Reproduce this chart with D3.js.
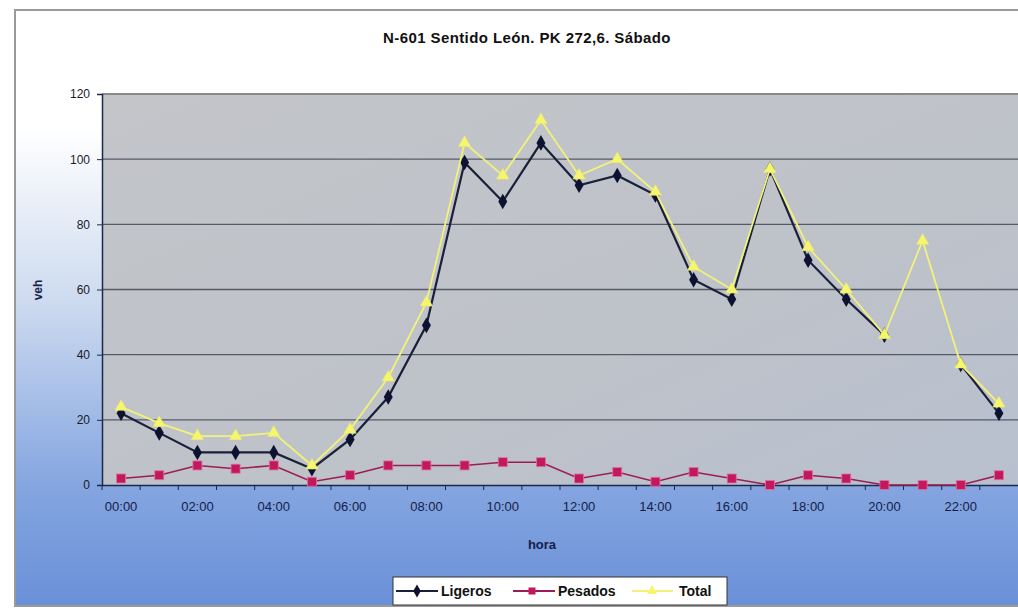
<!DOCTYPE html>
<html><head><meta charset="utf-8">
<script src="https://cdn.jsdelivr.net/npm/d3@7"></script>
<style>html,body{margin:0;padding:0;background:#fff;}svg{display:block;}</style>
</head><body>
<svg id="c" width="1018" height="610"></svg>
<script>
const hours = ["00:00","01:00","02:00","03:00","04:00","05:00","06:00","07:00","08:00","09:00","10:00","11:00","12:00","13:00","14:00","15:00","16:00","17:00","18:00","19:00","20:00","21:00","22:00","23:00"];
const tickLabels = ["00:00","02:00","04:00","06:00","08:00","10:00","12:00","14:00","16:00","18:00","20:00","22:00"];
const ligeros = [22,16,10,10,10,5,14,27,49,99,87,105,92,95,89,63,57,97,69,57,46,null,37,22];
const pesados = [2,3,6,5,6,1,3,6,6,6,7,7,2,4,1,4,2,0,3,2,0,0,0,3];
const total   = [24,19,15,15,16,6,17,33,56,105,95,112,95,100,90,67,60,97,73,60,46,75,37,25];
const yTicks = [0,20,40,60,80,100,120];
const title = "N-601 Sentido León. PK 272,6. Sábado";
const seriesNames = ["Ligeros","Pesados","Total"];

const FONT = "'Liberation Sans Narrow','Arial Narrow','Liberation Sans',sans-serif";
const svg = d3.select("#c");
const L=102, R=1018, T=94, B=485;
const x = d3.scaleBand().domain(hours).range([L,R]);
const y = d3.scaleLinear().domain([0,120]).range([B,T]);
const cx = h => x(h)+x.bandwidth()/2;

const defs = svg.append("defs");
const bg = defs.append("linearGradient").attr("id","bg").attr("x1",0).attr("y1",0).attr("x2",0).attr("y2",1);
bg.append("stop").attr("offset","0%").attr("stop-color","#ffffff");
bg.append("stop").attr("offset","20%").attr("stop-color","#ffffff");
bg.append("stop").attr("offset","50%").attr("stop-color","#cbd9ef");
bg.append("stop").attr("offset","80%").attr("stop-color","#84a5e0");
bg.append("stop").attr("offset","100%").attr("stop-color","#6a90d8");
const pg = defs.append("linearGradient").attr("id","pg").attr("x1",0).attr("y1",0).attr("x2",1).attr("y2",1);
pg.append("stop").attr("offset","0%").attr("stop-color","#c3c5c9");
pg.append("stop").attr("offset","60%").attr("stop-color","#bec2c9");
pg.append("stop").attr("offset","100%").attr("stop-color","#b8c0cf");

// chart area background and frame
svg.append("rect").attr("x",15).attr("y",10).attr("width",1010).attr("height",596).attr("fill","url(#bg)").attr("stroke","#9a9a9a").attr("stroke-width",2);

// plot area
svg.append("rect").attr("x",L).attr("y",T).attr("width",R-L+5).attr("height",B-T).attr("fill","url(#pg)");
svg.append("line").attr("x1",L).attr("x2",R).attr("y1",T).attr("y2",T).attr("stroke","#8a8a8a").attr("stroke-width",2);

// gridlines
svg.append("g").selectAll("line").data(yTicks.filter(d=>d>0&&d<120)).join("line")
  .attr("x1",L).attr("x2",R).attr("y1",d=>y(d)).attr("y2",d=>y(d))
  .attr("stroke","#555b66").attr("stroke-width",1.3);

// title
svg.append("text").attr("x",527).attr("y",43).attr("text-anchor","middle")
  .attr("font-family",FONT).attr("font-weight","bold").attr("font-size",15).attr("letter-spacing",0.4).attr("fill","#111").text(title);

// y axis
const yAxis = d3.axisLeft(y).tickValues(yTicks).tickSize(5).tickPadding(7);
const gy = svg.append("g").attr("transform",`translate(${L},0)`).call(yAxis);
gy.select(".domain").attr("stroke","#1a2a4a").attr("stroke-width",1.5);
gy.selectAll(".tick line").attr("stroke","#1a2a4a");
gy.selectAll("text").attr("font-family",FONT).attr("font-size",12).attr("fill","#1a1a2a");

// x axis
const xAxis = d3.axisBottom(x).tickValues(tickLabels).tickSize(0).tickPadding(17);
const gx = svg.append("g").attr("transform",`translate(0,${B})`).call(xAxis);
gx.select(".domain").attr("stroke","#1a2a4a").attr("stroke-width",1.5);
gx.selectAll("text").attr("font-family",FONT).attr("font-size",13).attr("fill","#15204a");
// category boundary ticks
svg.append("g").selectAll("line").data(hours).join("line")
  .attr("x1",d=>x(d)).attr("x2",d=>x(d)).attr("y1",B).attr("y2",B+5)
  .attr("stroke","#1a2a4a").attr("stroke-width",1);

// axis titles
svg.append("text").attr("x",542).attr("y",549).attr("text-anchor","middle")
  .attr("font-family",FONT).attr("font-weight","bold").attr("font-size",13).attr("fill","#15204a").text("hora");
svg.append("text").attr("transform","translate(42,290) rotate(-90)").attr("text-anchor","middle")
  .attr("font-family",FONT).attr("font-weight","bold").attr("font-size",12).attr("fill","#15204a").text("veh");

// series
const lineGen = d3.line().defined(d=>d.v!==null).x(d=>cx(d.h)).y(d=>y(d.v));
function series(vals){ return hours.map((h,i)=>({h:h,v:vals[i]})); }

const sLig = series(ligeros), sPes = series(pesados), sTot = series(total);

// Pesados
svg.append("path").datum(sPes).attr("d",lineGen).attr("fill","none").attr("stroke","#9c1d55").attr("stroke-width",1.6);
svg.append("g").selectAll("rect").data(sPes).join("rect")
  .attr("x",d=>cx(d.h)-4.5).attr("y",d=>y(d.v)-4.5).attr("width",9).attr("height",9)
  .attr("fill","#c2185e").attr("stroke","#e070a0").attr("stroke-width",0.8);

// Ligeros
svg.append("path").datum(sLig).attr("d",lineGen).attr("fill","none").attr("stroke","#1a1f3a").attr("stroke-width",2.2);
svg.append("g").selectAll("path").data(sLig.filter(d=>d.v!==null)).join("path")
  .attr("d",d3.symbol(d3.symbolDiamond,70)).attr("transform",d=>`translate(${cx(d.h)},${y(d.v)})`)
  .attr("fill","#0d1230");

// Total
svg.append("path").datum(sTot).attr("d",lineGen).attr("fill","none").attr("stroke","#f2f27a").attr("stroke-width",1.8);
svg.append("g").selectAll("path").data(sTot).join("path")
  .attr("d",d3.symbol(d3.symbolTriangle,65)).attr("transform",d=>`translate(${cx(d.h)},${y(d.v)})`)
  .attr("fill","#f6f66e").attr("stroke","#e8e870").attr("stroke-width",0.6);

// legend
const lg = svg.append("g");
lg.append("rect").attr("x",393).attr("y",577).attr("width",334).attr("height",28).attr("fill","#fff").attr("stroke","#333").attr("stroke-width",1);
const legItems = [
  {name:seriesNames[0], lx1:396, lx2:438, mx:417, tx:441, col:"#1a1f3a", sym:"d"},
  {name:seriesNames[1], lx1:513, lx2:555, mx:532, tx:558, col:"#9c1d55", sym:"s"},
  {name:seriesNames[2], lx1:632, lx2:673, mx:652, tx:679, col:"#f2f27a", sym:"t"}
];
const ly = 591;
legItems.forEach(it=>{
  lg.append("line").attr("x1",it.lx1).attr("x2",it.lx2).attr("y1",ly).attr("y2",ly).attr("stroke",it.col).attr("stroke-width",2);
  if(it.sym==="d") lg.append("path").attr("d",d3.symbol(d3.symbolDiamond,50)).attr("transform",`translate(${it.mx},${ly})`).attr("fill","#0d1230");
  if(it.sym==="s") lg.append("rect").attr("x",it.mx-3.5).attr("y",ly-3.5).attr("width",7).attr("height",7).attr("fill","#c2185e");
  if(it.sym==="t") lg.append("path").attr("d",d3.symbol(d3.symbolTriangle,45)).attr("transform",`translate(${it.mx},${ly})`).attr("fill","#f6f66e");
  lg.append("text").attr("x",it.tx).attr("y",ly+5).attr("font-family",FONT)
    .attr("font-weight","bold").attr("font-size",14).attr("fill","#111").text(it.name);
});
</script>
</body></html>
